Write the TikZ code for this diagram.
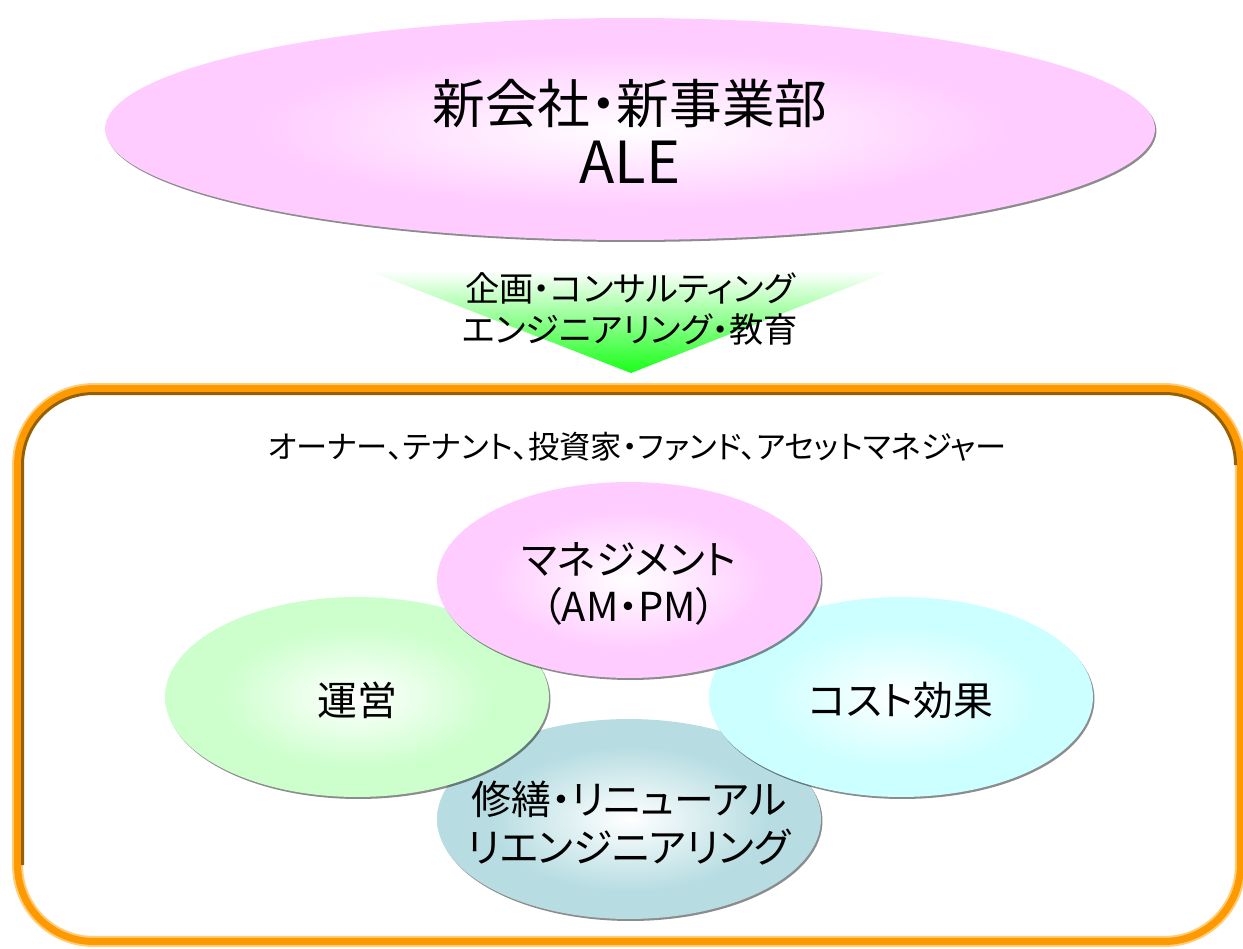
\documentclass[tikz,border=0pt]{standalone}
\usepackage{fontspec}
\setmainfont{Noto Sans CJK JP}[RawFeature={+palt}]
\usetikzlibrary{shapes.geometric,shadows}
\definecolor{pinkfill}{RGB}{255,204,255}
\definecolor{greenfill}{RGB}{204,255,204}
\definecolor{cyanfill}{RGB}{204,255,255}
\definecolor{tealfill}{RGB}{183,221,226}
\definecolor{arrowgreen}{RGB}{25,255,25}
\definecolor{frameorange}{RGB}{255,153,0}
\definecolor{framelight}{RGB}{255,204,120}
\definecolor{framebrown}{RGB}{150,95,0}
\pgfdeclareradialshading{pinkglow}{\pgfpoint{0bp}{0bp}}{color(0bp)=(white); color(18bp)=(pinkfill); color(50bp)=(pinkfill)}
\pgfdeclareradialshading{greenglow}{\pgfpoint{0bp}{0bp}}{color(0bp)=(white); color(18bp)=(greenfill); color(50bp)=(greenfill)}
\pgfdeclareradialshading{cyanglow}{\pgfpoint{0bp}{0bp}}{color(0bp)=(white); color(18bp)=(cyanfill); color(50bp)=(cyanfill)}
\pgfdeclareradialshading{tealglow}{\pgfpoint{0bp}{0bp}}{color(0bp)=(white); color(18bp)=(tealfill); color(50bp)=(tealfill)}
\begin{document}
\begin{tikzpicture}[x=0.02cm, y=0.02cm]
\tikzstyle{every node}+=[inner sep=0pt]
\tikzstyle{blob}=[ellipse, minimum width=7.68cm, minimum height=4cm, drop shadow={shadow xshift=0.03cm, shadow yshift=-0.04cm, fill=black, opacity=0.45}]
\tikzstyle{blobtext}=[align=center, font=\fontsize{22.7}{27}\selectfont]
\fill [white] (0,0) rectangle (1243,-949);
\useasboundingbox (0,0) rectangle (1243,-949);
\node [blob, minimum width=21cm, minimum height=4.44cm, shading=pinkglow] (ale) at (630,-129) {};
\node [align=center, font=\fontsize{30}{34}\selectfont] (aletxt) at (630,-131) {新会社・新事業部\\{\fontsize{33}{34}\selectfont ALE}};
\shade [top color=white, bottom color=arrowgreen] (366,-270) -- (893,-270) -- (631,-373) -- cycle;
\node [align=center, font=\fontsize{19.5}{23.8}\selectfont] (service) at (630,-309) {企画・コンサルティング\\エンジニアリング・教育};
\node [draw=framelight, line width=0.22cm, rounded corners=1.52cm, minimum width=24.46cm, minimum height=11.06cm] (field) at (629,-665) {};
\node [draw=frameorange, line width=0.14cm, rounded corners=1.52cm, minimum width=24.46cm, minimum height=11.06cm] (fieldband) at (629,-665) {};
\draw [framebrown, line width=0.06cm, rounded corners=1.42cm] (22.5,-865) -- (22.5,-393.5) -- (1235.5,-393.5) -- (1235.5,-465);
\node [font=\fontsize{17.8}{19}\selectfont] (owners) at (637,-447) {オーナー、テナント、投資家・ファンド、アセットマネジャー};
\node [blob, shading=tealglow] (repair) at (629,-819) {};
\node [blobtext] (repairtxt) at (629,-823) {修繕・リニューアル\\リエンジニアリング};
\node [blob, shading=greenglow] (ops) at (357,-697) {};
\node [blobtext] (opstxt) at (357,-700) {運営};
\node [blob, shading=cyanglow] (cost) at (901,-697) {};
\node [blobtext] (costtxt) at (901,-700) {コスト効果};
\node [blob, minimum height=3.92cm, shading=pinkglow] (mgmt) at (629,-580) {};
\node [blobtext] (mgmttxt) at (629,-584) {マネジメント\\（AM・PM）};
\end{tikzpicture}
\end{document}
